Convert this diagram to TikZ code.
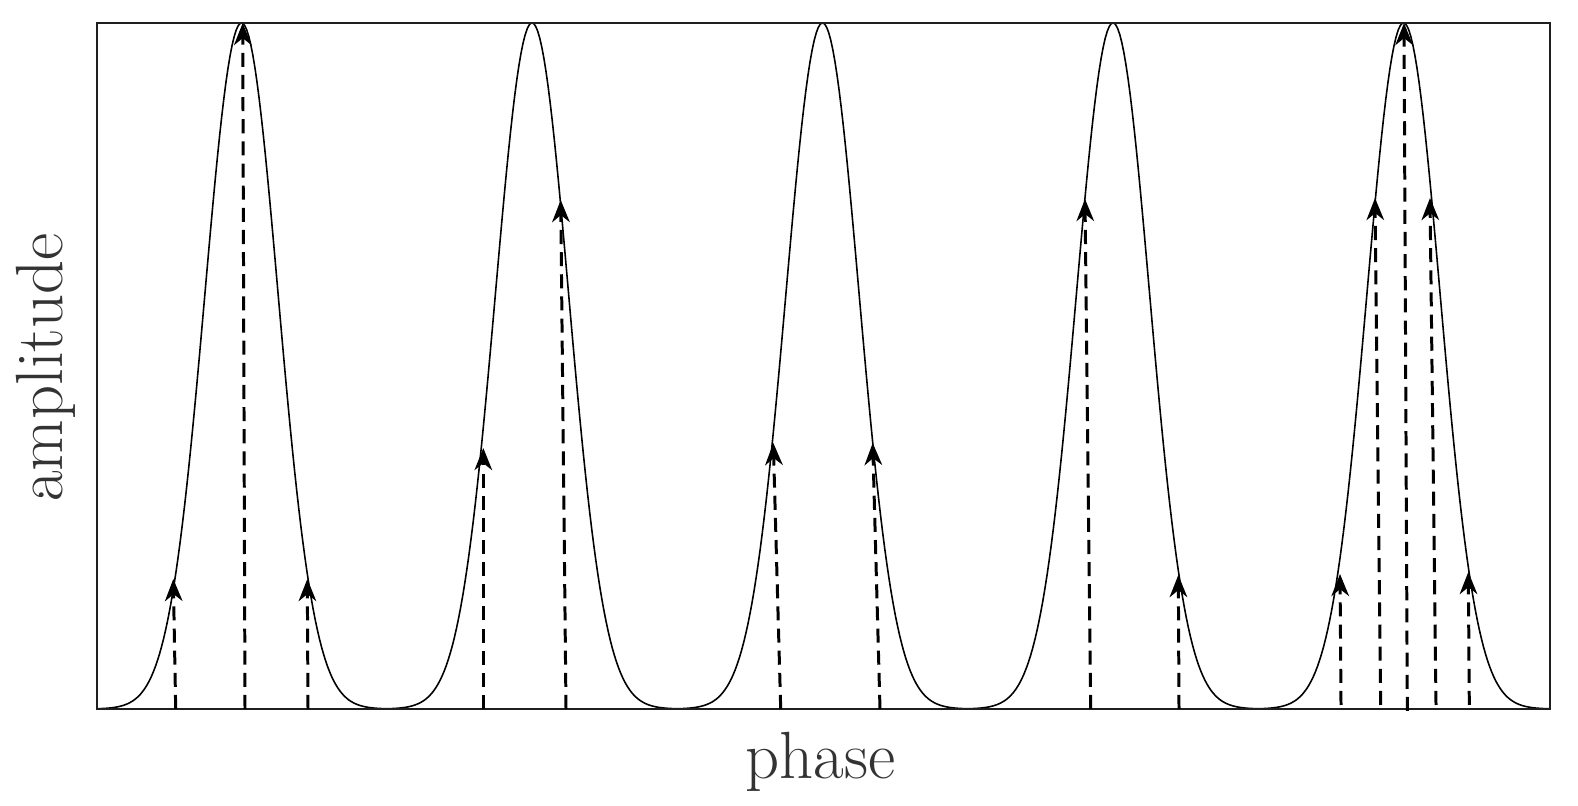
\documentclass[tikz,border=0pt]{standalone}
\usetikzlibrary{arrows.meta}
\tikzset{
  frame/.style={draw=black!88, line width=0.57pt},
  curve/.style={draw=black, line width=0.45pt},
  sample/.style={draw=black, line width=0.85pt, dash pattern=on 4pt off 2.3pt,
    -{Stealth[length=6.3pt, width=5pt, inset=2pt]}},
  axlabel/.style={text=black!80, font=\fontsize{19}{22}\selectfont, inner sep=0pt}
}
\begin{document}
\begin{tikzpicture}[x=0.1mm, y=-0.1mm]
\useasboundingbox (0,0) rectangle (1578,806);
% Gaussian train
\draw[curve] plot[domain=97:1550, samples=700]
  (\x, {709 - 686*exp(-0.5*((mod(\x-241.5+1597.75,290.5)-145.25)/36.5)^2)});
% frame
\draw[frame] (97,23) rectangle (1550,709);
% sample arrows
\foreach \i/\bx/\by/\tx/\ty in {
  1/175.7/709/173.3/579, 2/245/709/242.7/23, 3/308/709/307.3/579,
  4/483.3/709/483.3/448, 5/566/709/560.7/200,
  6/780.7/709/773.3/443, 7/880/709/872.7/443,
  8/1090.7/709/1085/199, 9/1179/709/1178.3/575,
  10/1341/705/1340/574, 11/1380.7/705/1375/198, 12/1407.3/711/1404/23,
  13/1436/705/1430/198, 14/1469.3/705/1468.3/572}{
  \coordinate (b\i) at (\bx,\by);
  \coordinate (t\i) at (\tx,\ty);
  \draw[sample] (b\i) -- (t\i);
}
% axis labels
\node[axlabel, anchor=base] (xlab) at (820.5,779) {phase};
\node[axlabel, anchor=base, rotate=90] (ylab) at (62,367.5) {amplitude};
\end{tikzpicture}
\end{document}
